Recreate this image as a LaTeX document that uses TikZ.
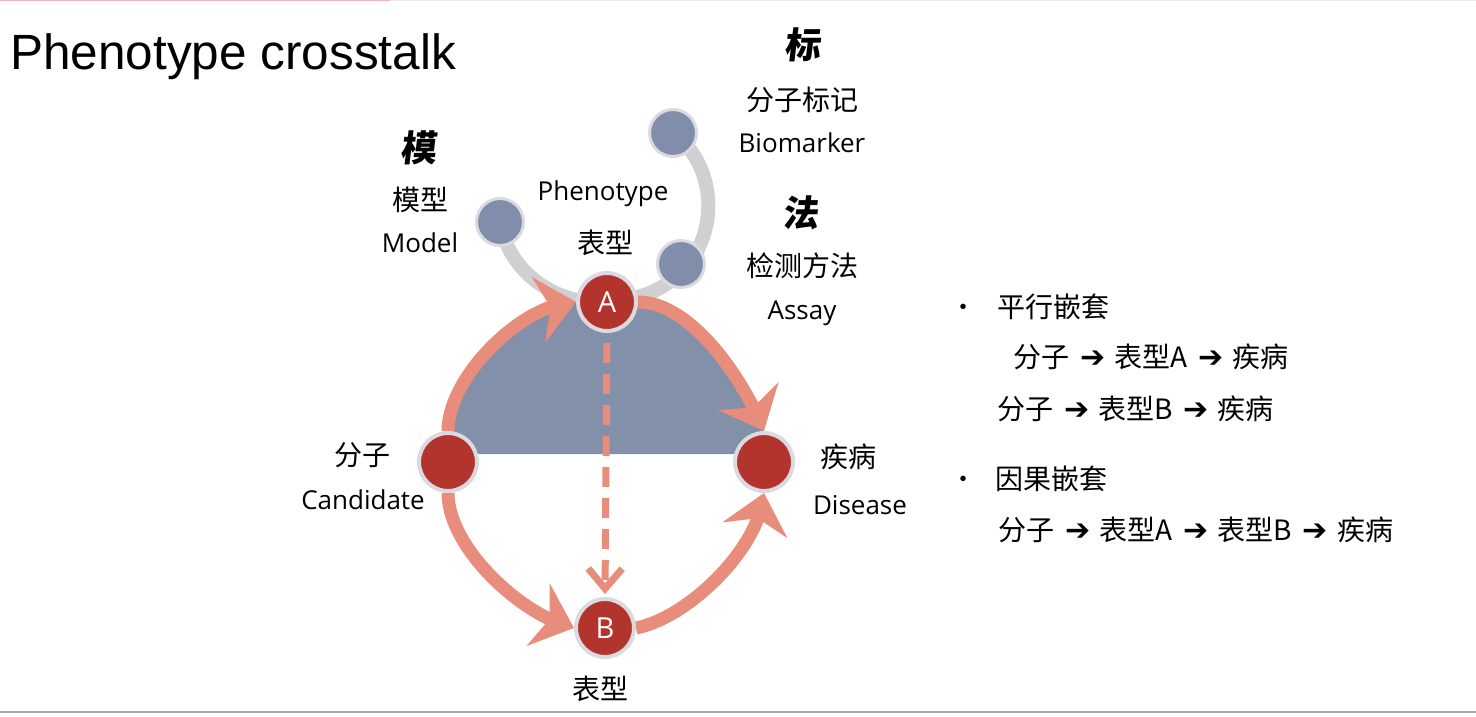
\documentclass[tikz,border=0pt]{standalone}
\usepackage{fontspec}
\setmainfont{Open Sans}
\newfontfamily\cjk{Noto Sans CJK SC}
\newfontfamily\titlefont{Liberation Sans}
\newfontfamily\brushfont[FakeSlant=0.12]{Noto Sans CJK SC}
\newfontfamily\arrowfont{DejaVu Sans}
\usetikzlibrary{arrows.meta,bending,backgrounds,calc}

\definecolor{nodered}{RGB}{178,52,44}
\definecolor{noderim}{RGB}{218,218,224}
\definecolor{slate}{RGB}{130,144,170}
\definecolor{slatenode}{RGB}{128,142,172}
\definecolor{salmon}{RGB}{232,140,124}
\definecolor{stemgray}{RGB}{208,208,210}
\definecolor{rulegray}{RGB}{168,168,168}
\definecolor{rulepink}{RGB}{240,176,186}
\definecolor{rulelight}{RGB}{232,232,232}

% heavy arrow used inside the pathway lines
\newcommand\flowarrow{\hspace{11pt}{\arrowfont\fontsize{30}{30}\selectfont ➔}\hspace{9pt}}

\begin{document}
\begin{tikzpicture}[x=1pt,y=1pt,
  keynode/.style={circle, fill=nodered, draw=noderim, line width=4pt,
    minimum size=58pt, inner sep=0pt, text=white,
    font=\fontsize{29}{30}\selectfont},
  subnode/.style={circle, fill=slatenode, draw=noderim, line width=3pt,
    minimum size=47pt, inner sep=0pt},
  lbl/.style={anchor=base, inner sep=0pt, font=\fontsize{26}{30}\selectfont},
  cjklbl/.style={anchor=base, inner sep=0pt, font=\cjk\fontsize{28}{30}\selectfont},
  brush/.style={anchor=base, inner sep=0pt,
    font=\brushfont\bfseries\fontsize{36}{40}\selectfont},
  listtext/.style={anchor=base west, inner sep=0pt,
    font=\cjk\fontsize{28}{30}\selectfont},
  bulletmark/.style={anchor=base, inner sep=0pt,
    font=\titlefont\fontsize{20}{22}\selectfont},
  ring/.style={draw=salmon, line width=13pt,
    -{Stealth[length=38pt,width=66pt,inset=12pt,flex]}},
  stem/.style={draw=stemgray, line width=14pt},
  crosslink/.style={draw=salmon, line width=7pt, dash pattern=on 20pt off 11pt,
    shorten <=10pt, shorten >=3pt,
    -{Straight Barb[length=20pt,width=34pt]}},
]
\useasboundingbox (0,0) rectangle (1476,716);

% page rules
\draw[rulelight, line width=2pt] (390,716) -- (1476,716);
\draw[rulepink, line width=2pt] (0,716) -- (390,716);
\draw[rulegray, line width=2pt] (0,4) -- (1476,4);

% title
\node[anchor=base west, inner sep=0pt, font=\titlefont\fontsize{49.5}{52}\selectfont]
  (title) at (10,646) {Phenotype crosstalk};

% main nodes
\node[keynode] (A) at (607,414) {A};
\node[keynode] (L) at (448,254) {};
\node[keynode] (R) at (764,254) {};
\node[keynode] (B) at (605,88) {B};

% satellite nodes
\node[subnode] (G1) at (500,494) {};
\node[subnode] (G2) at (673,583) {};
\node[subnode] (G3) at (681,452) {};

\begin{pgfonlayer}{background}
  % stems of the satellites
  \draw[stem] (G1.center) .. controls +(8,-49) and +(-52,-4) .. (A.center);
  \draw[stem] (G2.center) .. controls +(60,-43) and +(113,6) .. (A.center);
  % shaded upper half
  \fill[slate] ($(L.center)+(0,8)$) -- (L.north)
     .. controls +(0,55) and +(-52,0) .. (A.west) -- (A.east)
     .. controls +(52,0) and +(-22,55) .. (R.north)
     -- ($(R.center)+(0,8)$) -- cycle;
  % ring of arrows
  \draw[ring] (L.north) .. controls +(0,55) and +(-52,0) .. (A.west);
  \draw[ring] (A.east) .. controls +(52,0) and +(-22,55) .. (R.north);
  \draw[ring] (L.south) .. controls +(0,-55) and +(-52,12) .. (B.west);
  \draw[ring] (B.east) .. controls +(52,10) and +(-4,-55) .. (R.south);
  % A to B
  \draw[crosslink] (A.south) -- (B.north);
\end{pgfonlayer}

% labels around the diagram
\node[brush] (moChar) at (418,554) {模};
\node[cjklbl] (moxing) at (420,505) {模型};
\node[lbl] (model) at (420,463) {Model};
\node[lbl] (pheno) at (603,515) {Phenotype};
\node[cjklbl] (phenoCn) at (605,462) {表型};
\node[brush] (biaoChar) at (802,657) {标};
\node[cjklbl] (biomarkerCn) at (802,605) {分子标记};
\node[lbl] (biomarker) at (802,563) {Biomarker};
\node[brush] (faChar) at (800,489) {法};
\node[cjklbl] (assayCn) at (802,439) {检测方法};
\node[lbl] (assay) at (802,396) {Assay};
\node[cjklbl] (candCn) at (362,251) {分子};
\node[lbl] (cand) at (363,207) {Candidate};
\node[cjklbl] (disCn) at (848,249) {疾病};
\node[lbl] (dis) at (860,202) {Disease};
\node[cjklbl] (phenoB) at (600,17) {表型};

% nesting list
\node[bulletmark] (bul1) at (963,402) {•};
\node[listtext] (head1) at (997,398) {平行嵌套};
\node[listtext] (line1) at (1013,348) {分子\flowarrow 表型A\flowarrow 疾病};
\node[listtext] (line2) at (997,297) {分子\flowarrow 表型B\flowarrow 疾病};
\node[bulletmark] (bul2) at (963,231) {•};
\node[listtext] (head2) at (995,227) {因果嵌套};
\node[listtext] (line3) at (998,176) {分子\flowarrow 表型A\flowarrow 表型B\flowarrow 疾病};
\end{tikzpicture}
\end{document}
